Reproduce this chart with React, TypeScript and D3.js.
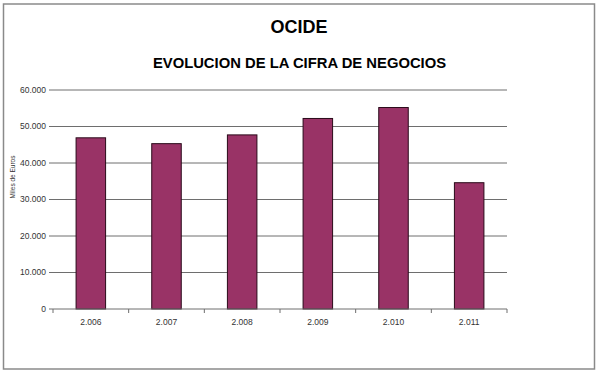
import React from "react";
import * as d3 from "d3";

const years = ["2.006", "2.007", "2.008", "2.009", "2.010", "2.011"];
const values = [46900, 45300, 47700, 52200, 55200, 34600];
const yTicks = [0, 10000, 20000, 30000, 40000, 50000, 60000];
const title = "OCIDE";
const subtitle = "EVOLUCION DE LA CIFRA DE NEGOCIOS";
const yLabel = "Miles de Euros";

const fmt = (v: number) => (v === 0 ? "0" : d3.format(",")(v).replace(/,/g, "."));

export default function App() {
  const W = 600, H = 376;
  const left = 53, right = 507, top = 90, bottom = 309;
  const x = d3.scaleBand<string>().domain(years).range([left, right]).paddingInner(0.61).paddingOuter(0.305);
  const band = (right - left) / years.length;
  const y = d3.scaleLinear().domain([0, 60000]).range([bottom, top]);
  const font = "Arial, 'Liberation Sans', sans-serif";
  return (
    <svg width={W} height={H} style={{ position: "absolute", left: 0, top: 0, display: "block", background: "#fff" }} fontFamily={font}>
      <rect x={3.5} y={4} width={591} height={365} fill="#fff" stroke="#8a8a8a" strokeWidth={1.5} />
      <text x={299} y={33} textAnchor="middle" fontSize={18} fontWeight="bold" fill="#000">{title}</text>
      <text x={299.5} y={68} textAnchor="middle" fontSize={14.8} fontWeight="bold" fill="#000">{subtitle}</text>
      {yTicks.map((t) => (
        <g key={t}>
          {t > 0 && <line x1={left} x2={right} y1={y(t)} y2={y(t)} stroke="#6e6e6e" strokeWidth={1} />}
          <line x1={left - 4} x2={left} y1={y(t)} y2={y(t)} stroke="#6e6e6e" strokeWidth={1} />
          <text x={left - 7} y={y(t)} dy="0.35em" textAnchor="end" fontSize={8.5} fill="#333">{fmt(t)}</text>
        </g>
      ))}
      <text transform={`translate(15,177) rotate(-90)`} textAnchor="middle" fontSize={6.5} fill="#333">{yLabel}</text>
      {years.map((yr, i) => (
        <rect key={yr} x={x(yr)} y={y(values[i])} width={x.bandwidth()} height={bottom - y(values[i])} fill="#993366" stroke="#2a0a1a" strokeWidth={1} />
      ))}
      <line x1={left} x2={right} y1={bottom} y2={bottom} stroke="#6e6e6e" strokeWidth={1} />
      {d3.range(years.length + 1).map((k) => (
        <line key={k} x1={left + k * band} x2={left + k * band} y1={bottom} y2={bottom + 4} stroke="#6e6e6e" strokeWidth={1} />
      ))}
      {years.map((yr) => (
        <text key={yr} x={(x(yr) as number) + x.bandwidth() / 2} y={322} dy="0.35em" textAnchor="middle" fontSize={8.5} fill="#333">{yr}</text>
      ))}
    </svg>
  );
}
